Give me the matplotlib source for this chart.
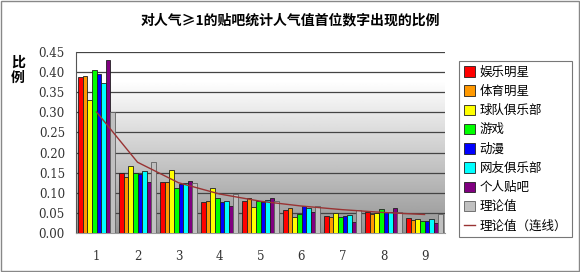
import matplotlib.pyplot as plt
import numpy as np

plt.rcParams['font.family'] = ['Noto Sans CJK SC', 'DejaVu Sans']

# Data
digits = ['1', '2', '3', '4', '5', '6', '7', '8', '9']
series_names = ['娱乐明星', '体育明星', '球队俱乐部', '游戏', '动漫', '网友俱乐部', '个人贴吧', '理论值']
entertainment = [0.389, 0.150, 0.126, 0.078, 0.079, 0.058, 0.043, 0.051, 0.037]
sports = [0.390, 0.140, 0.126, 0.080, 0.088, 0.062, 0.039, 0.048, 0.033]
teams = [0.330, 0.166, 0.157, 0.112, 0.064, 0.041, 0.050, 0.050, 0.036]
games = [0.405, 0.150, 0.112, 0.087, 0.079, 0.046, 0.041, 0.059, 0.031]
anime = [0.395, 0.146, 0.123, 0.076, 0.078, 0.068, 0.042, 0.051, 0.031]
friends = [0.373, 0.153, 0.125, 0.080, 0.082, 0.062, 0.044, 0.051, 0.035]
personal = [0.430, 0.127, 0.129, 0.066, 0.087, 0.051, 0.028, 0.062, 0.026]
theory = [0.301, 0.176, 0.125, 0.097, 0.079, 0.067, 0.058, 0.051, 0.046]

series = [entertainment, sports, teams, games, anime, friends, personal, theory]
colors = ['#FF0000', '#FF9900', '#FFFF00', '#00FF00', '#0000FF', '#00FFFF', '#800080', '#C0C0C0']
edges = ['#202020'] * 7 + ['#606060']

fig = plt.figure(figsize=(5.8, 2.72), dpi=100)
ax = fig.add_axes([76 / 580, 1 - 233 / 272, 369 / 580, 181 / 272])

# gradient background (gray at top, white at bottom)
grad = np.clip(np.linspace(0.58, 1.08, 256), 0, 1).reshape(-1, 1)
ax.imshow(grad, cmap='gray', vmin=0, vmax=1, aspect='auto',
          extent=[0, 1, 1, 0], transform=ax.transAxes, zorder=0)

x = np.arange(len(digits))
n = len(series)
w = 0.88 / n
handles = []
for i, (vals, c, ec, name) in enumerate(zip(series, colors, edges, series_names)):
    h = ax.bar(x - 0.44 + w * (i + 0.5), vals, width=w, color=c,
               edgecolor=ec, linewidth=0.6, zorder=3, label=name)
    handles.append(h)

line, = ax.plot(x, theory, color='#993333', linewidth=1.0, zorder=4, label='理论值（连线）')
handles.append(line)

ax.set_xlim(-0.5, len(digits) - 0.5)
ax.set_ylim(0, 0.45)
ax.set_yticks(np.arange(0, 0.451, 0.05))
ax.set_yticklabels(['%.2f' % v for v in np.arange(0, 0.451, 0.05)],
                   fontsize=8.5, family='DejaVu Serif', color='#333333')
ax.yaxis.grid(True, color='#444444', linewidth=0.9, zorder=1)
ax.set_axisbelow(True)
ax.set_xticks(x)
ax.set_xticklabels(digits, fontsize=8.5, family='DejaVu Serif', color='#333333')
ax.tick_params(axis='both', length=0)
ax.tick_params(axis='x', pad=12)
ax.tick_params(axis='y', pad=8)
for s in ['top', 'right']:
    ax.spines[s].set_visible(False)
ax.spines['left'].set_color('#555555')
ax.spines['bottom'].set_color('#999999')

fig.text(290 / 580, 1 - 20 / 272, '对人气≥1的贴吧统计人气值首位数字出现的比例',
         ha='center', va='center', fontsize=10, fontweight='bold')
fig.text(18 / 580, 1 - 70 / 272, '比\n例', ha='center', va='center',
         fontsize=10, fontweight='bold', linespacing=1.1)

leg = fig.legend(handles=handles, loc='upper left',
                 bbox_to_anchor=(453 / 580, 1 - 55 / 272), fontsize=9,
                 frameon=True, fancybox=False, edgecolor='#555555',
                 handlelength=0.9, handleheight=0.9, handletextpad=0.4,
                 labelspacing=0.5, borderpad=0.35)
leg.get_frame().set_linewidth(0.8)

# outer border
fig.patches.append(plt.Rectangle((0.002, 0.003), 0.996, 0.994, transform=fig.transFigure,
                                 fill=False, edgecolor='#888888', linewidth=1))

fig.savefig('out.png', dpi=100)
